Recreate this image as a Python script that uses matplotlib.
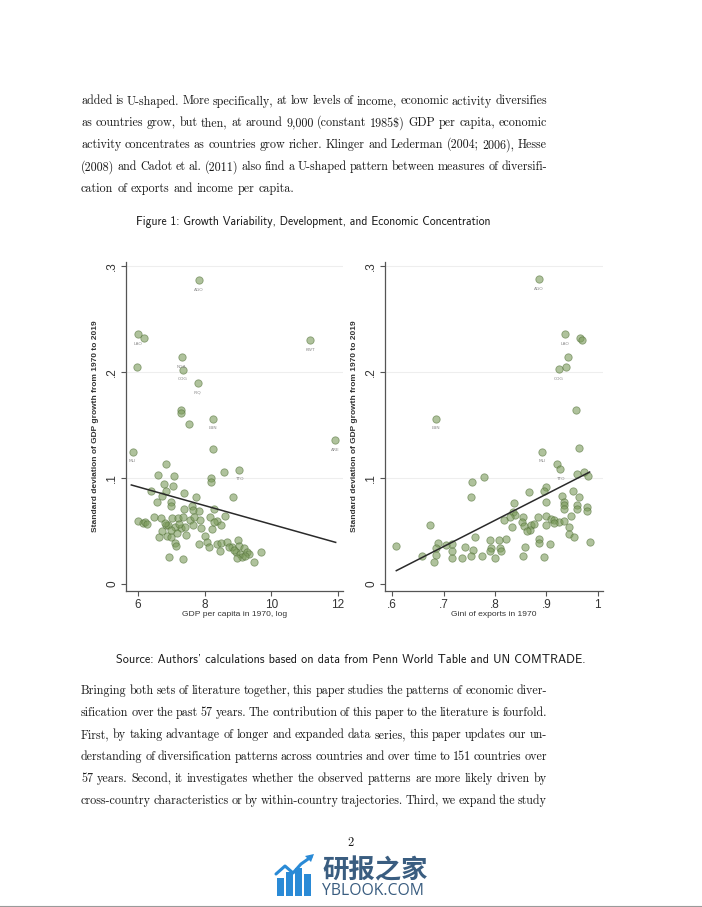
import numpy as np
import matplotlib
matplotlib.use("Agg")
import matplotlib.pyplot as plt
from matplotlib.patches import Rectangle, Polygon

# ---- data ----
# left panel: log GDP per capita 1970 vs sd of GDP growth 1970-2019
gdp_x = [7.82, 6.00, 6.18, 11.17, 7.31, 5.98, 7.34, 7.79, 7.30, 7.30, 7.53, 8.26, 11.92,
         5.84, 8.26, 6.85, 6.60, 7.07, 8.58, 9.04, 8.19, 8.20, 6.78, 7.04, 6.40, 6.83,
         7.37, 6.73, 7.75, 8.86, 6.56, 7.00, 7.00, 7.37, 7.62, 7.64, 7.82, 8.29, 6.47,
         6.70, 5.99, 6.14, 6.21, 6.28, 7.02, 7.19, 7.34, 7.57, 7.87, 8.15, 8.37, 8.60,
         6.84, 6.90, 7.30, 7.42, 7.65, 7.90, 8.22, 8.48, 8.02, 6.62, 6.86, 7.00, 7.12,
         7.14, 7.44, 7.82, 8.06, 8.13, 8.38, 8.48, 8.47, 8.68, 8.82, 8.99, 9.02, 8.94,
         9.05, 9.17, 9.26, 9.33, 9.11, 8.96, 9.47, 9.69, 6.93, 7.36, 6.80, 6.73, 7.11,
         7.22, 7.67, 7.17, 7.00, 8.27, 8.72, 8.87, 9.21]
gdp_y = [0.287, 0.236, 0.232, 0.230, 0.214, 0.205, 0.2025, 0.190, 0.164, 0.161, 0.151,
         0.156, 0.136, 0.125, 0.127, 0.113, 0.103, 0.1015, 0.106, 0.108, 0.100, 0.096,
         0.0947, 0.0925, 0.088, 0.088, 0.086, 0.083, 0.082, 0.0818, 0.0774, 0.0777,
         0.0739, 0.071, 0.0736, 0.070, 0.0689, 0.0707, 0.0635, 0.0626, 0.0597, 0.0579,
         0.0585, 0.0566, 0.0626, 0.0626, 0.0635, 0.0604, 0.0604, 0.0635, 0.0597, 0.0645,
         0.0553, 0.0553, 0.0531, 0.054, 0.0553, 0.0528, 0.0516, 0.0553, 0.0453, 0.0443,
         0.0453, 0.044, 0.0384, 0.0358, 0.0462, 0.0377, 0.0396, 0.0346, 0.0374, 0.039,
         0.0314, 0.040, 0.0346, 0.0415, 0.0358, 0.0305, 0.0283, 0.034, 0.0305, 0.0283,
         0.0258, 0.0242, 0.0204, 0.0305, 0.0252, 0.0236, 0.0572, 0.050, 0.054, 0.0566,
         0.0635, 0.0478, 0.051, 0.0588, 0.0352, 0.032, 0.0264]
gdp_lab = {0: "AGO", 1: "LAO", 3: "KWT", 4: "NGA", 6: "COG", 7: "IRQ", 11: "LBN",
           12: "ARE", 13: "MLI", 19: "TTO"}
gdp_fit_x = [5.80, 11.93]
gdp_fit_y = [0.0935, 0.0393]

# right panel: Gini of exports 1970 vs sd of GDP growth
gini_x = [0.885, 0.936, 0.966, 0.969, 0.942, 0.924, 0.938, 0.957, 0.685, 0.891, 0.963,
          0.921, 0.927, 0.755, 0.779, 0.959, 0.974, 0.980, 0.753, 0.899, 0.896, 0.867,
          0.952, 0.931, 0.963, 0.837, 0.900, 0.935, 0.935, 0.934, 0.959, 0.959, 0.978,
          0.979, 0.834, 0.839, 0.830, 0.817, 0.854, 0.883, 0.899, 0.909, 0.915, 0.925,
          0.935, 0.947, 0.833, 0.852, 0.856, 0.870, 0.876, 0.868, 0.863, 0.899, 0.915,
          0.943, 0.943, 0.953, 0.886, 0.885, 0.906, 0.858, 0.854, 0.895, 0.984, 0.821,
          0.807, 0.790, 0.792, 0.791, 0.809, 0.811, 0.800, 0.774, 0.761, 0.742, 0.758,
          0.754, 0.735, 0.717, 0.716, 0.716, 0.704, 0.689, 0.686, 0.686, 0.681, 0.657,
          0.608, 0.673]
gini_y = [0.2876, 0.236, 0.2323, 0.2305, 0.2144, 0.203, 0.205, 0.164, 0.156, 0.125, 0.128,
          0.113, 0.1085, 0.0962, 0.1006, 0.1038, 0.106, 0.102, 0.082, 0.092, 0.088, 0.0865,
          0.0874, 0.0827, 0.0824, 0.0764, 0.0774, 0.077, 0.0748, 0.071, 0.0748, 0.0707,
          0.0723, 0.0686, 0.068, 0.065, 0.063, 0.0607, 0.063, 0.063, 0.0638, 0.0613,
          0.0607, 0.059, 0.0597, 0.0638, 0.0538, 0.0582, 0.055, 0.056, 0.057, 0.0513,
          0.0497, 0.056, 0.0575, 0.0538, 0.047, 0.044, 0.0424, 0.0387, 0.038, 0.0349,
          0.026, 0.0255, 0.040, 0.0428, 0.0418, 0.0418, 0.034, 0.031, 0.034, 0.031, 0.0245,
          0.026, 0.0443, 0.0349, 0.0324, 0.0267, 0.0245, 0.0245, 0.031, 0.0377, 0.037,
          0.0387, 0.034, 0.0277, 0.0208, 0.0267, 0.0355, 0.0553]
gini_lab = {0: "AGO", 1: "LAO", 5: "COG", 8: "LBN", 9: "MLI", 12: "TTO"}
gini_fit_x = [0.608, 0.984]
gini_fit_y = [0.0126, 0.1057]

y_ticks = [0, 0.1, 0.2, 0.3]
y_ticklabels = ["0", ".1", ".2", ".3"]
gdp_ticks = [6, 8, 10, 12]
gini_ticks = [0.6, 0.7, 0.8, 0.9, 1.0]
gini_ticklabels = [".6", ".7", ".8", ".9", "1"]

para1 = ["added is U-shaped. More specifically, at low levels of income, economic activity diversifies",
         "as countries grow, but then, at around 9,000 (constant 1985$) GDP per capita, economic",
         "activity concentrates as countries grow richer. Klinger and Lederman (2004; 2006), Hesse",
         "(2008) and Cadot et al. (2011) also find a U-shaped pattern between measures of diversifi-",
         "cation of exports and income per capita."]
para2 = ["Bringing both sets of literature together, this paper studies the patterns of economic diver-",
         "sification over the past 57 years. The contribution of this paper to the literature is fourfold.",
         "First, by taking advantage of longer and expanded data series, this paper updates our un-",
         "derstanding of diversification patterns across countries and over time to 151 countries over",
         "57 years. Second, it investigates whether the observed patterns are more likely driven by",
         "cross-country characteristics or by within-country trajectories. Third, we expand the study"]

W, H = 702, 907
fig = plt.figure(figsize=(W / 100, H / 100), dpi=100)
fig.patch.set_facecolor("white")
renderer = fig.canvas.get_renderer()


def fx(x):
    return x / W


def fy(y):
    return 1 - y / H


def justify(lines, y0, step, x0=81, x1=547, last_ragged=True, size=8.7):
    for i, line in enumerate(lines):
        y = y0 + i * step
        words = line.split()
        ts = [fig.text(0, fy(y), w, fontsize=size, family="cmr10", va="baseline",
                       color="#1a1a1a") for w in words]
        widths = [t.get_window_extent(renderer).width for t in ts]
        if last_ragged and i == len(lines) - 1:
            gap = size * 0.45
        else:
            gap = (x1 - x0 - sum(widths)) / (len(words) - 1)
        x = x0
        for t, w in zip(ts, widths):
            t.set_x(fx(x))
            x += w + gap


justify(para1, 104.5, 21.9)
justify(para2, 694, 22.0, last_ragged=False)

fig.text(fx(313), fy(222), "Figure 1: Growth Variability, Development, and Economic Concentration",
         family="cmss10", fontsize=8.4, ha="center", va="center", color="#1a1a1a")
fig.text(fx(351), fy(660), "Source: Authors' calculations based on data from Penn World Table and UN COMTRADE.",
         family="cmss10", fontsize=8.8, ha="center", va="center", color="#1a1a1a")
fig.text(fx(351), fy(846), "2", family="cmr10", fontsize=9, ha="center", va="baseline",
         color="#1a1a1a")

# ---- scatter panels ----
dot = "#7a9a5a"
edge = "#54723a"


def panel(rect, xs, ys, labs, fit_x, fit_y, xlim, xticks, xticklabels, xlabel):
    ax = fig.add_axes(rect)
    ax.set_xlim(*xlim)
    ax.set_ylim(-0.0066, 0.304)
    for t in y_ticks[1:]:
        ax.axhline(t, color="#eeeeee", lw=0.8, zorder=0)
    ax.scatter(xs, ys, s=28, facecolor=dot, edgecolor=edge, linewidths=0.6, alpha=0.6,
               zorder=2)
    for i, lab in labs.items():
        ax.annotate(lab, (xs[i], ys[i]), xytext=(0, -7), textcoords="offset points",
                    fontsize=3.2, color="#8a8a8a", ha="center", va="center")
    ax.plot(fit_x, fit_y, color="#2a2a2a", lw=1.1, zorder=3)
    for s in ["top", "right"]:
        ax.spines[s].set_visible(False)
    for s in ["left", "bottom"]:
        ax.spines[s].set_color("#555555")
        ax.spines[s].set_linewidth(0.9)
    ax.set_yticks(y_ticks)
    ax.set_yticklabels(y_ticklabels, rotation=90, va="center")
    ax.set_xticks(xticks)
    ax.set_xticklabels(xticklabels)
    ax.tick_params(colors="#555555", labelcolor="#333333", labelsize=8.5, length=3.5,
                   width=0.8, pad=2)
    for lbl in ax.get_xticklabels() + ax.get_yticklabels():
        lbl.set_family("Liberation Sans")
    ax.set_xlabel(xlabel, fontsize=6.1, family="Liberation Sans", color="#333333", labelpad=0)
    ax.set_ylabel("Standard deviation of GDP growth from 1970 to 2019", fontsize=6.0,
                  family="Liberation Sans", color="#333333", fontweight="bold", labelpad=5)
    ax.set_facecolor("white")
    return ax


panel([fx(126), fy(591), (343 - 126) / W, (591 - 262) / H], gdp_x, gdp_y, gdp_lab,
      gdp_fit_x, gdp_fit_y, (5.64, 12.15), gdp_ticks, [str(t) for t in gdp_ticks],
      "GDP per capita in 1970, log")
panel([fx(385), fy(591), (603 - 385) / W, (591 - 262) / H], gini_x, gini_y, gini_lab,
      gini_fit_x, gini_fit_y, (0.586, 1.01), gini_ticks, gini_ticklabels,
      "Gini of exports in 1970")

# ---- watermark logo ----
logo = fig.add_axes([0, 0, 1, 1], zorder=-1)
logo.set_xlim(0, W)
logo.set_ylim(H, 0)
logo.axis("off")
blue = "#2a8ad6"
bar_x = [277, 286, 295, 304]
bar_top = [878, 872, 868, 874]
for bx, bt in zip(bar_x, bar_top):
    logo.add_patch(Rectangle((bx, bt), 6.5, 896 - bt, color=blue, lw=0))
logo.plot([276, 285, 293, 301, 311], [874, 866, 873, 864, 857], color=blue, lw=2.2,
          solid_capstyle="round")
logo.add_patch(Polygon([[314, 854], [305, 856], [311, 862]], color=blue, lw=0))
logo.text(322, 871, "研报之家", family=["Noto Sans CJK SC", "DejaVu Sans"], fontsize=19,
          color="#3a5d80", va="center", ha="left", fontweight="bold")
logo.text(322, 891, "YBLOOK.COM", family="Open Sans", fontsize=11.3, color="#3a5d80",
          va="center", ha="left")
logo.plot([0, W], [906, 906], color="#9a9a9a", lw=0.8)

fig.savefig("out.png", dpi=100, facecolor="white")
